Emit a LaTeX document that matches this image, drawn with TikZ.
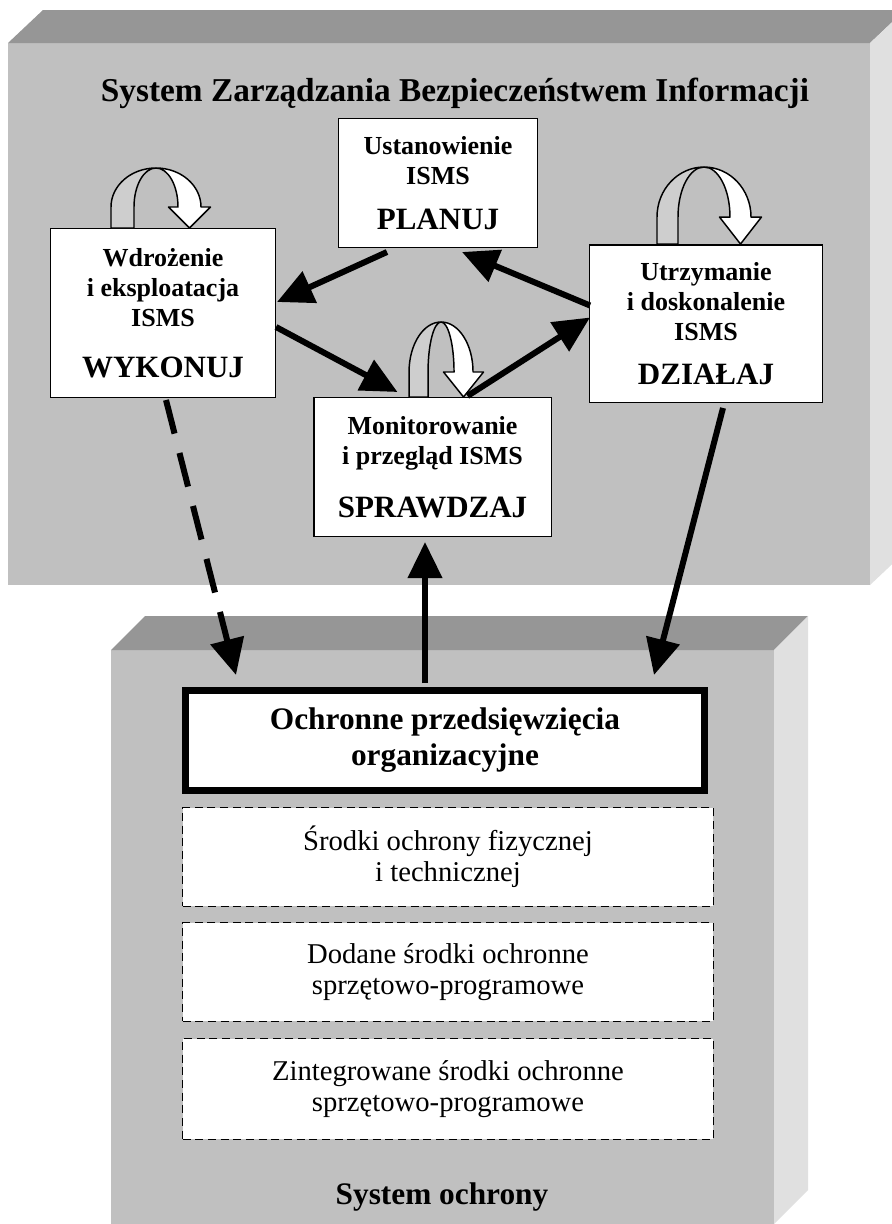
\documentclass[tikz,border=0pt]{standalone}
\usepackage{fontspec}
\setmainfont{Liberation Serif}
\usepackage{xcolor}
\usetikzlibrary{arrows.meta,calc,positioning}
\definecolor{frontgray}{RGB}{192,192,192}
\definecolor{topgray}{RGB}{150,150,150}
\definecolor{sidegray}{RGB}{224,224,224}
\definecolor{loopgray}{RGB}{206,206,206}
\newcommand*{\lblfont}{\fontsize{19.5}{22.5}\selectfont\bfseries}
\newcommand*{\bigfont}{\fontsize{23.25}{27}\selectfont\bfseries}
\newcommand*{\titlefont}{\fontsize{25}{28}\selectfont\bfseries}
\newcommand*{\headfont}{\fontsize{23.5}{27}\selectfont\bfseries}
\newcommand*{\txtfont}{\fontsize{21.5}{23.5}\selectfont}
% u-turn arrow on top of a box: #1 base, #2 half width, #3 band, #4 height, #5 head base, #6 head half width
\newcommand*{\uturn}[6]{%
  \begin{scope}[shift={(#1)},line width=1.1pt,line join=round]
    \filldraw[fill=loopgray] (0,0) -- (0,-#5) arc[start angle=180,end angle=270,x radius=#2,y radius=#4-#5]
      arc[start angle=270,end angle=180,x radius=#2-#3,y radius=#4-#5] -- (#3,0) -- cycle;
    \filldraw[fill=white] (#2,-#4) arc[start angle=270,end angle=360,x radius=#2,y radius=#4-#5]
      -- ++(#6-#3/2,0) -- (2*#2-#3/2,0) -- (2*#2-#3/2-#6,-#5) -- (2*#2-#3,-#5)
      arc[start angle=360,end angle=270,x radius=#2-#3,y radius=#4-#5] -- cycle;
  \end{scope}}

\begin{document}
\begin{tikzpicture}[x=0.75pt,y=-0.75pt,
  phase/.style={rectangle,draw=black,line width=1.1pt,fill=white,inner sep=0pt,align=center,font=\lblfont},
  means/.style={rectangle,draw=black,line width=1pt,dash pattern=on 6pt off 3.5pt,fill=white,inner sep=0pt,align=center,font=\txtfont,minimum width=398pt,minimum height=74pt},
  flow/.style={line width=4.5pt,-{Triangle[length=27pt,width=25pt]}}]
  \clip (0,0) rectangle (892,1224);
  \fill[white] (0,0) rectangle (892,1224);
  % ISMS block
  \fill[frontgray] (8,43) rectangle (870,585);
  \fill[topgray] (8,43) -- (43,10) -- (905,10) -- (870,43) -- cycle;
  \fill[sidegray] (870,43) -- (905,10) -- (905,552) -- (870,585) -- cycle;
  % protection block
  \fill[frontgray] (111,650) rectangle (774,1224);
  \fill[topgray] (111,650) -- (145,616) -- (808,616) -- (774,650) -- cycle;
  \fill[sidegray] (774,650) -- (808,616) -- (808,1190) -- (774,1224) -- cycle;

  \node[font=\titlefont] (title) at (455,93) {System Zarządzania Bezpieczeństwem Informacji};
  \node[phase,minimum width=149pt,minimum height=96.4pt] (plan) at (438,183) {Ustanowienie\\ISMS\\[11pt]{\bigfont PLANUJ}};
  \node[phase,minimum width=168.4pt,minimum height=126.4pt] (wyk) at (163,313) {Wdrożenie\\i eksploatacja\\ISMS\\[16pt]{\bigfont WYKONUJ}};
  \node[phase,minimum width=174.4pt,minimum height=118.1pt] (dzi) at (706,323.5) {Utrzymanie\\i doskonalenie\\ISMS\\[10pt]{\bigfont DZIAŁAJ}};
  \node[phase,minimum width=178.1pt,minimum height=103.9pt] (spr) at (432.5,467) {Monitorowanie\\i przegląd ISMS\\[17pt]{\bigfont SPRAWDZAJ}};

  \node[draw=black,line width=5pt,fill=white,inner sep=0pt,align=center,font=\headfont,minimum width=389.5pt,minimum height=75.25pt] (org) at (445,740.5) {Ochronne przedsięwzięcia\\organizacyjne};
  \node[means] (fiz) at (448,857) {Środki ochrony fizycznej\\i technicznej};
  \node[means] (dod) at (448,972) {Dodane środki ochronne\\sprzętowo-programowe};
  \node[means,minimum height=75.5pt] (zint) at (448,1089) {Zintegrowane środki ochronne\\sprzętowo-programowe};
  \node[font=\headfont] (sysochr) at (442,1197) {System ochrony};

  \uturn{$(wyk.north west)+(61,0)$}{45}{23}{60}{21}{21}
  \uturn{$(dzi.north west)+(68,0)$}{47}{21}{77}{27}{21}
  \uturn{$(spr.north west)+(96,0)$}{32}{19}{75}{25}{20}

  \draw[flow] ($(plan.south)+(-51,4)$) -- ($(wyk.east)+(1,-11)$);
  \draw[flow] ($(wyk.east)+(0,14)$) -- ($(spr.north)+(-35,-5)$);
  \draw[flow] ($(spr.north)+(35,-1)$) -- ($(dzi.west)+(1,-6)$);
  \draw[flow] ($(dzi.west)+(1,-18)$) -- ($(plan.south)+(24,4)$);
  \draw[flow,dash pattern=on 26pt off 15pt] ($(wyk.south)+(3,2)$) -- ($(org.north west)+(54,-12)$);
  \draw[flow] ($(org.north)+(-20,-4)$) -- ($(spr.south)+(-7.5,5)$);
  \draw[flow] ($(dzi.south)+(17,5)$) -- ($(org.north east)+(-54,-12)$);
\end{tikzpicture}
\end{document}
